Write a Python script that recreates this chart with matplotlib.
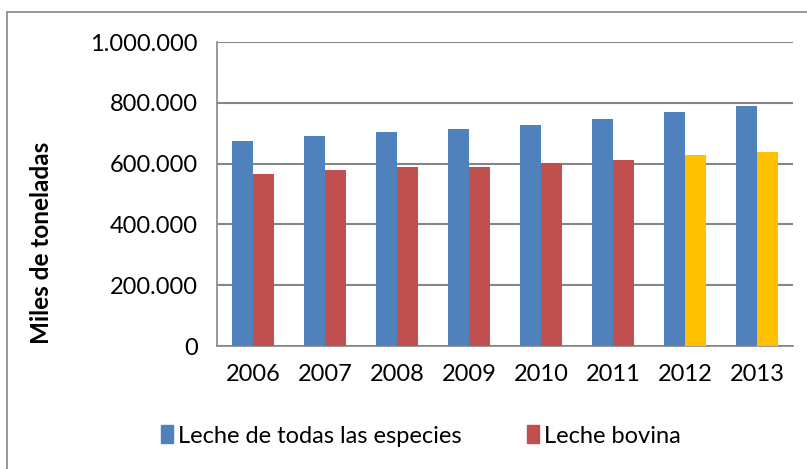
import numpy as np
import matplotlib.pyplot as plt
from matplotlib.patches import Rectangle, Patch

plt.rcParams['font.family'] = ['Lato', 'DejaVu Sans']

years = ['2006', '2007', '2008', '2009', '2010', '2011', '2012', '2013']
todas = [673000, 691000, 704000, 713000, 728000, 748000, 771000, 788000]
bovina = [566000, 579000, 589000, 590000, 602000, 612000, 629000, 639000]
bovina_colors = ['#C0504D'] * 6 + ['#FFC000'] * 2

fig = plt.figure(figsize=(8.07, 4.69), dpi=100)
ax = fig.add_axes([217/807, 1-346/469, 576/807, 304/469])

x = np.arange(len(years))
w = 0.285
ax.bar(x - w/2, todas, w, color='#4F81BD', zorder=3)
ax.bar(x + w/2, bovina, w, color=bovina_colors, zorder=3)

ax.set_xlim(-0.5, len(years) - 0.5)
ax.set_ylim(0, 1000000)
ax.set_yticks(np.arange(0, 1000001, 200000))
ax.set_yticklabels(['{:,.0f}'.format(v).replace(',', '.') for v in ax.get_yticks()])
ax.set_xticks(x)
ax.set_xticklabels(years)
ax.tick_params(axis='both', length=0, labelsize=17, colors='black')
ax.tick_params(axis='x', pad=13)
ax.tick_params(axis='y', pad=14)
ax.yaxis.grid(True, color='#868686', linewidth=1.5, zorder=0)
for s in ['top', 'right']:
    ax.spines[s].set_visible(False)
for s in ['left', 'bottom']:
    ax.spines[s].set_color('#868686')
    ax.spines[s].set_linewidth(1.2)

fig.text(42/807, 1-243/469, 'Miles de toneladas', rotation=90, fontsize=17.5,
         fontweight='bold', ha='center', va='center')

handles = [Patch(color='#4F81BD'), Patch(color='#C0504D')]
fig.legend(handles, ['Leche de todas las especies', 'Leche bovina'],
           loc='center', bbox_to_anchor=(421/807, 1-436/469), ncol=2, frameon=False,
           fontsize=17, handlelength=0.5, handleheight=0.8, handletextpad=0.2,
           columnspacing=2.8)

fig.add_artist(Rectangle((7/807, -0.1), 1.1, 1-12/469 + 0.1, transform=fig.transFigure,
                         fill=False, edgecolor='#868686', linewidth=1.2))

fig.savefig('out.png', dpi=100)
